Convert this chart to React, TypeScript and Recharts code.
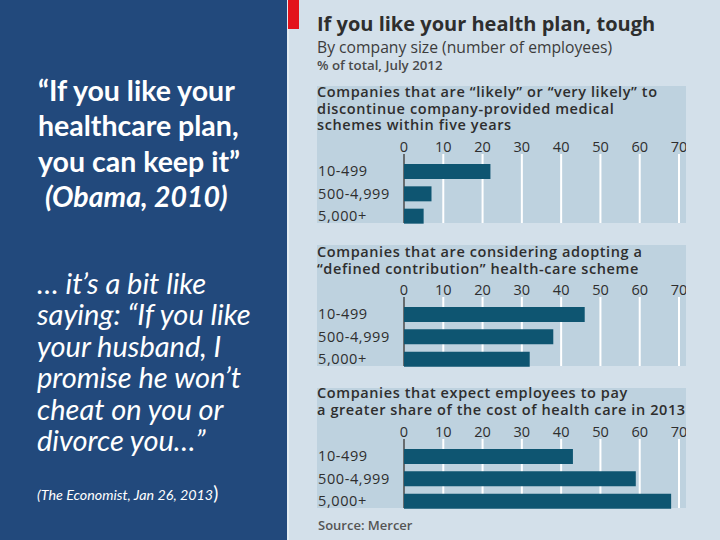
import { BarChart, Bar, XAxis, YAxis, CartesianGrid } from 'recharts'

const sizes = ['10-499', '500-4,999', '5,000+']
const discontinue = [22, 7, 5]
const definedContribution = [46, 38, 32]
const payMore = [43, 59, 68]
const pctTicks = [0, 10, 20, 30, 40, 50, 60, 70]

const BLUE = '#22497c'
const BG = '#d3e0ea'
const BAND = '#bed2df'
const BAR = '#0e5571'
const INK = '#2e2e2e'
const FONT = '"Open Sans", Lato, sans-serif'
const QUOTE_FONT = 'Lato, "Open Sans", sans-serif'

const AXIS_H = 30
const Y_W = 87

const CategoryTick = ({ y, payload }: any) => (
    <text x={1} y={y} dy={5} fill={INK} fontSize={14.5} letterSpacing={0.6} fontFamily={FONT} textAnchor="start">
        {payload.value}
    </text>
)

// white grid lines, dark line at zero
const GridLine = (p: any) => {
    const zero = Math.abs(p.x1 - Y_W) < 1
    return (
        <line
            key={p.key}
            x1={p.x1}
            y1={p.y1}
            x2={p.x2}
            y2={p.y2}
            stroke={zero ? '#4a4a4a' : '#ffffff'}
            strokeWidth={zero ? 1.5 : 2}
        />
    )
}

interface PanelProps {
    title: string[]
    values: number[]
    bandTop: number
    bandBottom: number
    titleTop: number
    plotTop: number
}

function Panel({ title, values, bandTop, bandBottom, titleTop, plotTop }: PanelProps) {
    const rows = sizes.map((size, i) => ({ size, value: values[i] }))
    return (
        <>
            <div style={{ position: 'absolute', left: 317, top: bandTop, width: 369, height: bandBottom - bandTop, background: BAND }} />
            <div style={{ position: 'absolute', left: 317, top: plotTop - AXIS_H }}>
                <BarChart layout="vertical" width={369} height={AXIS_H + 67} data={rows} margin={{ top: 0, right: 7, bottom: 0, left: 0 }}>
                    <CartesianGrid
                        horizontal={false}
                        vertical={GridLine}
                        y={AXIS_H - 6}
                        height={bandBottom - plotTop + 6}
                    />
                    <XAxis
                        type="number"
                        orientation="top"
                        domain={[0, 70]}
                        ticks={pctTicks}
                        interval={0}
                        height={AXIS_H}
                        axisLine={false}
                        tickLine={false}
                        tick={{ fill: INK, fontSize: 14.5, fontFamily: FONT }}
                    />
                    <YAxis
                        type="category"
                        dataKey="size"
                        width={Y_W}
                        interval={0}
                        axisLine={false}
                        tickLine={false}
                        tick={<CategoryTick />}
                    />
                    <Bar dataKey="value" fill={BAR} barSize={15} isAnimationActive={false} />
                </BarChart>
            </div>
            <div style={{ position: 'absolute', left: 317, top: titleTop, fontFamily: FONT, fontWeight: 600, fontSize: 14.5, letterSpacing: 0.6, lineHeight: '16.6px', color: INK, whiteSpace: 'nowrap' }}>
                {title.map((t, i) => <div key={i}>{t}</div>)}
            </div>
        </>
    )
}

export default function App() {
    return (
        <div style={{ position: 'absolute', left: 0, top: 0, width: 720, height: 540, background: BG, overflow: 'hidden' }}>
            {/* left quote panel */}
            <div style={{ position: 'absolute', left: 0, top: 0, width: 287, height: 540, background: BLUE, color: '#ffffff', fontFamily: QUOTE_FONT }}>
                <div style={{ position: 'absolute', left: 38, top: 73, fontSize: 28.5, fontWeight: 700, lineHeight: '35.3px', whiteSpace: 'nowrap' }}>
                    <div>“If you like your</div>
                    <div>healthcare plan,</div>
                    <div>you can keep it”</div>
                    <div style={{ fontStyle: 'italic', paddingLeft: 7 }}>(Obama, 2010)</div>
                </div>
                <div style={{ position: 'absolute', left: 37, top: 267, fontSize: 29, fontStyle: 'italic', lineHeight: '31.4px', whiteSpace: 'nowrap' }}>
                    <div>… it’s a bit like</div>
                    <div>saying: “If you like</div>
                    <div>your husband, I</div>
                    <div>promise he won’t</div>
                    <div>cheat on you or</div>
                    <div>divorce you…”</div>
                </div>
                <div style={{ position: 'absolute', left: 37, top: 481, fontSize: 14.3, fontStyle: 'italic', whiteSpace: 'nowrap' }}>
                    (The Economist, Jan 26, 2013<span style={{ fontStyle: 'normal', fontSize: 19 }}>)</span>
                </div>
            </div>
            <div style={{ position: 'absolute', left: 287, top: 0, width: 2, height: 540, background: '#e4ecf2' }} />
            <div style={{ position: 'absolute', left: 288, top: 0, width: 11, height: 29, background: '#e3121b' }} />

            {/* chart header */}
            <div style={{ position: 'absolute', left: 317, top: 10, fontFamily: FONT, fontWeight: 700, fontSize: 20, color: INK, whiteSpace: 'nowrap' }}>
                If you like your health plan, tough
            </div>
            <div style={{ position: 'absolute', left: 317, top: 36, fontFamily: FONT, fontSize: 15.7, color: '#3c3c3c', whiteSpace: 'nowrap' }}>
                By company size (number of employees)
            </div>
            <div style={{ position: 'absolute', left: 317, top: 56, fontFamily: FONT, fontWeight: 600, fontSize: 13.3, color: '#4a4a4a', whiteSpace: 'nowrap' }}>
                % of total, July 2012
            </div>

            <Panel
                title={['Companies that are “likely” or “very likely” to', 'discontinue company-provided medical', 'schemes within five years']}
                values={discontinue}
                bandTop={86}
                bandBottom={223}
                titleTop={84}
                plotTop={160}
            />
            <Panel
                title={['Companies that are considering adopting a', '“defined contribution” health-care scheme']}
                values={definedContribution}
                bandTop={245}
                bandBottom={366}
                titleTop={244}
                plotTop={303}
            />
            <Panel
                title={['Companies that expect employees to pay', 'a greater share of the cost of health care in 2013']}
                values={payMore}
                bandTop={388}
                bandBottom={508}
                titleTop={385}
                plotTop={445}
            />

            <div style={{ position: 'absolute', left: 318, top: 516, fontFamily: FONT, fontWeight: 600, fontSize: 13, color: '#555', whiteSpace: 'nowrap' }}>
                Source: Mercer
            </div>
        </div>
    )
}
